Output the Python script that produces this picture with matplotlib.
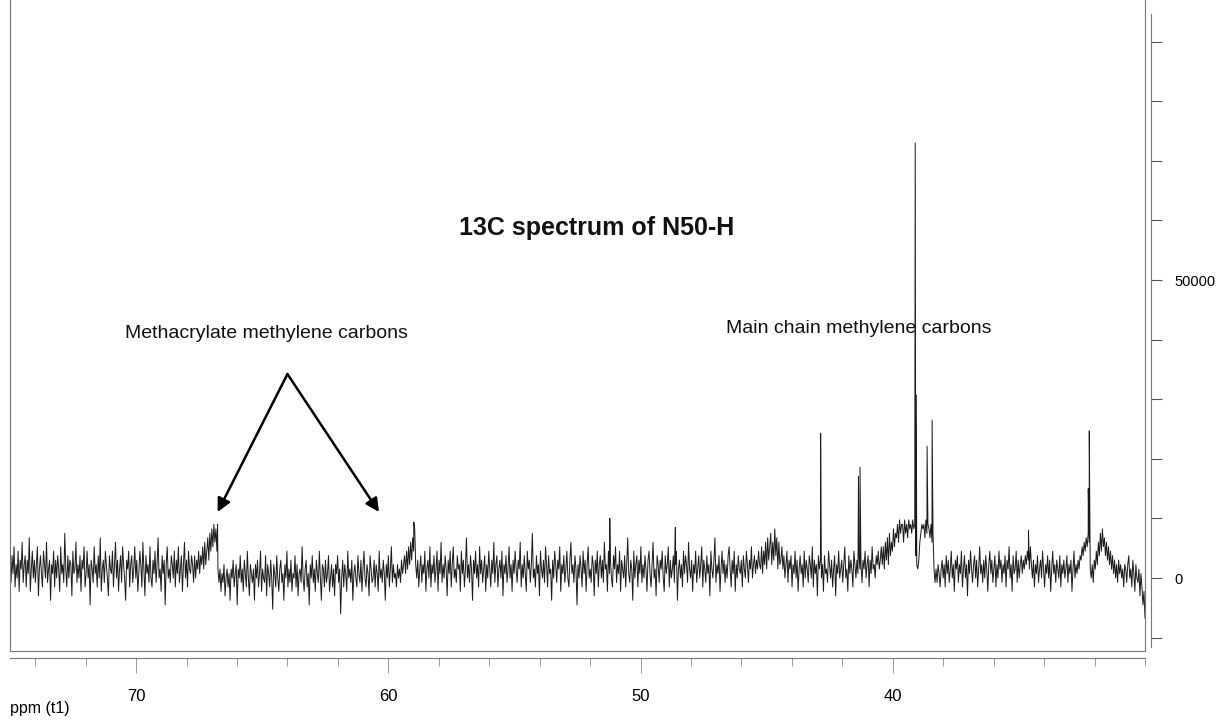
import numpy as np
import matplotlib.pyplot as plt

plt.rcParams["font.family"] = ["Liberation Sans", "DejaVu Sans"]

# baseline trace in units of 750, evenly spaced 75 -> 30 ppm
noise = [
    2, -1, 5, 1, 7, -2, 3, 0, 6, -3, 4, 2, 8, -1, 3, 5, -2, 4, 1, 9,
    -3, 2, 6, 0, 4, -1, 3, 7, -4, 2, 5, 1, -2, 6, 3, 0, 8, -1, 2, 4,
    -5, 3, 1, 6, -2, 4, 0, 5, 2, -3, 7, 1, 3, -1, 10, 2, -2, 5, 0, 4,
    3, -4, 6, 1, 2, 8, -1, 3, 0, 5, -3, 4, 2, 7, -2, 1, 6, 0, 3, -6,
    4, 2, -1, 7, 1, 3, -2, 5, 0, 9, -3, 2, 4, -1, 6, 3, 0, -4, 5, 2,
    1, 6, -2, 3, 8, 0, 4, -3, 2, 5, -1, 7, 3, 0, -5, 4, 2, 6, -2, 3,
    5, -1, 2, 7, 0, 4, -3, 1, 6, 3, -2, 8, 2, -4, 5, 1, 3, -1, 7, 0,
    -2, 4, 1, 6, -1, 3, 9, 0, 2, -3, 5, 1, 4, -6, 3, 7, 0, 2, -1, 5,
    3, 0, 6, -2, 4, 1, 7, -1, 2, 5, -3, 3, 8, 0, 4, -2, 6, 2, 1, 5,
    3, -1, 5, 0, 4, 2, 6, 1, 5, 3, 7, 2, 8, 3, 6, 9, 4, 10, 6, 11,
    7, 12, 8, 11, 6, 2, -1, 2, -3, 1, -1, 3, -4, 0, 2, -2, 1, -5, 2, 0,
    4, -2, 1, 3, -6, 2, 0, 5, -1, 2, -3, 4, 1, -2, 6, 0, -4, 3, 1, -1,
    2, -5, 3, 0, 4, -2, 1, 6, -3, 2, 0, -1, 5, -4, 3, 1, -2, 4, 0, -7,
    3, 1, -2, 5, 0, -3, 2, 4, -1, 1, -5, 3, 0, 6, -2, 2, -1, 4, -3, 1,
    0, 5, -2, 3, -4, 1, 2, -1, 7, 0, -3, 2, 4, -2, 1, -6, 3, 0, 5, -1,
    2, -3, 4, 1, -1, 6, 0, -5, 3, 2, -2, 4, -1, 1, 5, -3, 0, 3, -2, 2,
    -4, 3, 1, 5, -1, 2, -8, 0, 4, -2, 3, 1, -3, 6, 0, 2, -1, 4, -5, 1,
    3, 0, -2, 5, 1, -1, 4, -3, 2, 6, 0, -2, 3, 1, -4, 5, 2, -1, 0, 4,
    -2, 3, 1, -3, 6, 0, 2, -1, 4, 1, -5, 3, 0, 5, -2, 2, 7, -1, 3, 0,
    1, -2, 3, 0, 2, -1, 4, 1, 3, 5, 1, 6, 2, 7, 3, 8, 4, 9, 6, 11,
    3, 0, 4, -2, 2, 5, -1, 3, 1, 6, -3, 2, 4, 0, 7, -2, 3, 1, 5, -1,
    2, 6, -3, 4, 1, 8, -1, 3, 0, 5, 2, -4, 4, 1, 6, -2, 3, 7, 0, 2,
    -1, 5, 2, 3, -3, 6, 1, 4, -2, 2, 9, 0, 3, -1, 5, 2, -5, 4, 1, 6,
    0, 3, -2, 7, 1, 4, -1, 2, 5, -3, 3, 0, 6, 2, -2, 4, 1, 8, -1, 3,
    5, -2, 2, 4, 0, 6, -4, 3, 1, 5, -1, 2, 7, 0, 3, -3, 4, 1, 6, 2,
    -1, 4, 2, 8, -2, 3, 0, 5, 1, -3, 6, 2, 4, -1, 3, 10, 0, 2, -2, 5,
    1, 3, -4, 6, 2, 0, 4, -1, 7, 3, -2, 5, 1, 2, -5, 4, 0, 6, 3, -1,
    4, 2, 7, -3, 3, 1, 5, -1, 2, 6, 0, -2, 4, 8, 1, 3, -1, 5, 2, -6,
    3, 0, 5, 2, -2, 6, 1, 4, -3, 3, 7, 0, 2, -1, 5, 3, -4, 4, 1, 6,
    -2, 3, 5, 0, 4, -1, 8, 2, 3, -3, 6, 1, 4, 0, -2, 5, 2, 7, -1, 3,
    1, 6, -3, 4, 2, 0, 5, -2, 3, 9, 1, -1, 4, 2, -5, 6, 0, 3, 5, -2,
    4, 1, 7, -1, 3, 0, 5, 2, -3, 4, 6, 1, -2, 3, 8, 0, 2, -4, 5, 3,
    -1, 4, 2, 6, 0, -3, 5, 1, 3, 7, -2, 4, 0, 2, 5, -1, 3, 6, -5, 2,
    4, 0, 3, -2, 6, 1, 5, 3, -1, 8, 2, 0, 4, -3, 3, 1, 6, -1, 2, 5,
    0, 3, 7, -2, 4, 2, -1, 5, 1, 3, -4, 6, 2, 0, 4, 9, -1, 3, 1, 5,
    -3, 2, 6, 1, 4, -1, 3, 0, 5, 7, 2, -2, 4, 1, 6, -3, 3, 0, 5, 2,
    1, 4, -2, 5, 2, 0, 6, 3, -1, 4, 2, 7, 0, 3, 5, 1, 4, 2, 6, 3,
    2, 7, 1, 6, 3, 8, 2, 9, 4, 7, 10, 3, 8, 4, 11, 5, 9, 2, 8, 3,
    4, 7, 2, 5, 0, 3, 6, -1, 4, 2, 5, -2, 3, 1, 6, 0, 4, -3, 2, 5,
    1, 3, -2, 6, 0, 4, 2, -1, 5, 3, 0, 7, -2, 4, 1, 3, -4, 5, 2, 4,
    0, 3, -3, 5, 1, 2, -1, 6, 3, 0, 4, -2, 2, 5, -4, 3, 1, 6, 0, 2,
    4, -1, 3, 7, 0, 2, -3, 5, 1, 4, 2, -2, 6, 3, 0, 4, 1, 5, 2, 3,
    -1, 4, 2, 6, 0, 3, 5, -2, 4, 1, 7, 2, 3, 0, 5, 3, 6, 2, 4, 7,
    3, 7, 2, 8, 4, 9, 3, 10, 5, 8, 6, 11, 7, 10, 9, 12, 8, 13, 10, 12,
    12, 8, 13, 10, 12, 9, 13, 11, 12, 10, 13, 11, 12, 5, 3, 2, 4, 8, 10, 12,
    11, 12, 9, 13, 10, 12, 11, 9, 12, 8, 10, 2, -1, 2, -1, 3, 1, -2, 2, 4,
    0, 3, -2, 5, 1, 4, -1, 2, 6, 0, 3, -3, 4, 2, 5, -1, 3, 1, 6, -2,
    2, 5, 0, 3, -4, 4, 1, 6, 2, -1, 3, 5, 0, 4, -2, 2, 7, 1, 3, -1,
    4, 0, 5, 2, -3, 3, 6, 1, 4, -1, 2, 5, -2, 3, 0, 6, 2, 4, -1, 3,
    1, 5, -2, 4, 2, 7, 0, 3, -3, 5, 1, 2, 6, -1, 4, 0, 3, 5, 1, 4,
    2, 5, 3, 6, 4, 2, 7, 3, 0, 4, -2, 3, 1, 5, -1, 2, 4, 0, 6, 2,
    -2, 3, 1, 5, 0, 4, -3, 2, 6, 1, 3, -1, 4, 2, 0, 5, -2, 3, 1, 4,
    0, 2, 5, -1, 3, 1, 4, -3, 2, 6, 0, 3, 1, 4, 2, 5, 4, 7, 5, 8,
    6, 9, 7, 10, 8, 2, 0, 3, -1, 4, 2, 6, 3, 8, 5, 10, 6, 11, 7, 9,
    5, 8, 4, 7, 3, 6, 2, 5, 1, 4, 0, 3, -1, 4, 1, 3, 0, 2, -2, 3,
    2, -1, 3, 5, 0, 2, -2, 4, 1, -3, 3, 0, -1, 2, -4, 1, -2, -6, -3, -9,
]

# sharp lines (ppm, intensity)
peak_ppm = [66.77, 58.99, 51.22, 48.62, 42.86, 41.36, 41.30,
            39.11, 39.07, 38.64, 38.44, 34.62, 32.25, 32.21]
peak_int = [9000, 9400, 10000, 8500, 24300, 17000, 18600,
            73000, 30700, 22100, 26500, 8000, 15000, 24700]

x_major = [70, 60, 50, 40]
y_labels = [0, 50000]

noise_ppm = np.linspace(75, 30, len(noise))
ppm = np.concatenate([noise_ppm, peak_ppm])
inten = np.concatenate([np.array(noise) * 750.0, peak_int])
order = np.argsort(-ppm)
ppm, inten = ppm[order], inten[order]

fig = plt.figure(figsize=(12.21, 7.22), dpi=100)
ax = fig.add_axes([10 / 1221, 1 - 651 / 722, 1135 / 1221, 651 / 722])

ax.plot(ppm, inten, color="#1a1a1a", lw=0.7)
ax.set_xlim(75, 30)
ax.set_ylim(-12250, 97000)

for s in ["left", "bottom", "right"]:
    ax.spines[s].set_color("#777777")
    ax.spines[s].set_linewidth(0.8)
ax.spines["top"].set_visible(False)
ax.set_xticks([])
ax.set_yticks([])

# ppm axis under the frame
sx = ax.secondary_xaxis(-7 / 651)
sx.spines["bottom"].set_color("#777777")
sx.spines["bottom"].set_linewidth(0.8)
sx.set_xticks(x_major)
sx.set_xticks(np.arange(74, 29, -2), minor=True)
sx.tick_params(axis="x", which="major", length=11, width=0.6, color="#888888",
               labelsize=12, pad=11)
sx.tick_params(axis="x", which="minor", length=6, width=0.6, color="#888888")

# intensity axis right of the frame
sy = ax.secondary_yaxis(1 + 6 / 1135)
sy.spines["right"].set_color("#777777")
sy.spines["right"].set_linewidth(0.8)
sy.spines["right"].set_bounds(-11500, 94600)
sy.set_yticks(y_labels)
sy.set_yticklabels([str(v) for v in y_labels])
sy.set_yticks(np.arange(-10000, 95000, 10000), minor=True)
sy.tick_params(axis="y", which="both", length=8, width=0.8, color="#555555",
               labelsize=10.5, pad=9)

fig.text(10 / 1221, 1 - 708 / 722, "ppm (t1)", fontsize=11.5, va="center", ha="left")

ax.text(51.74, 58700, "13C spectrum of N50-H", fontsize=18, fontweight="bold",
        ha="center", va="center", color="#111111")
ax.text(64.83, 41100, "Methacrylate methylene carbons", fontsize=14,
        ha="center", va="center", color="#111111")
ax.text(41.36, 41800, "Main chain methylene carbons", fontsize=14,
        ha="center", va="center", color="#111111")

for tip in [(66.77, 11070), (60.37, 11070)]:
    ax.annotate("", xy=tip, xytext=(64.0, 34230),
                arrowprops=dict(arrowstyle="-|>", color="black", lw=1.8,
                                mutation_scale=20, shrinkA=0, shrinkB=0))

fig.savefig("out.png", dpi=100)
